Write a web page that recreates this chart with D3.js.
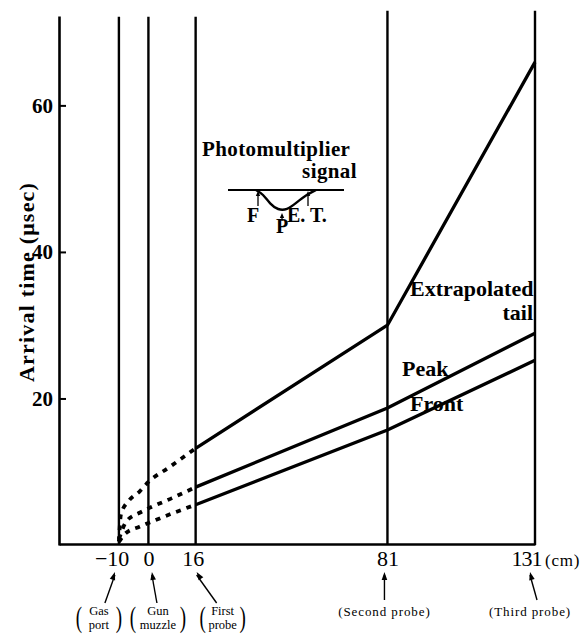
<!DOCTYPE html>
<html>
<head>
<meta charset="utf-8">
<script src="https://cdn.jsdelivr.net/npm/d3@7"></script>
<style>
  html, body { margin: 0; padding: 0; background: #fff; }
  svg { display: block; }
  text { font-family: "Liberation Serif", "DejaVu Serif", serif; fill: #000; }
</style>
</head>
<body>
<svg id="chart" width="582" height="637"></svg>
<script>
// Positions along the gun (cm) and what sits there
const probePos = [-10, 0, 16, 81, 131];
const tickLabels = ["\u221210", "0", "16", "81", "131"];
const probeNames = [["Gas", "port"], ["Gun", "muzzle"], ["First", "probe"], ["Second probe"], ["Third probe"]];

// Arrival-time axis ticks (µsec)
const yTicks = [20, 40, 60];

// Measured arrival times at the three probes (µsec)
const measuredX = [16, 81, 131];
const tailValues = [13.2, 30.0, 65.9];
const peakValues = [7.9, 18.7, 28.9];
const frontValues = [5.5, 15.7, 25.2];

// Extrapolation back toward the gas port (dashed)
const tailExtrapX = [-10, -9.3, -6.5, -3, 0, 7, 16];
const tailExtrap = [0.5, 4.2, 6.1, 7.3, 8.6, 10.6, 13.2];
const peakExtrapX = [-10, -7.5, -3, 0, 8, 16];
const peakExtrap = [0.8, 3.2, 4.4, 5.0, 6.4, 7.9];
const frontExtrapX = [-10, -8, -3, 0, 8, 16];
const frontExtrap = [0.4, 1.5, 2.5, 3.0, 4.3, 5.5];

const seriesLabels = [["Extrapolated", "tail"], ["Peak"], ["Front"]];

const svg = d3.select("#chart");

const x = d3.scaleLinear().domain([-30.3, 131]).range([59, 535]);
const y = d3.scaleLinear().domain([0, 72.2]).range([545, 16]);

const line = d3.line().x(d => x(d[0])).y(d => y(d[1]));
const curve = d3.line().x(d => x(d[0])).y(d => y(d[1])).curve(d3.curveMonotoneX);

// Left axis with inward ticks
const yAxis = svg.append("g")
  .attr("transform", `translate(${x.range()[0]},0)`)
  .call(d3.axisLeft(y).tickValues(yTicks).tickSize(-7).tickPadding(6).tickSizeOuter(0));
yAxis.select(".domain").attr("stroke", "#000").attr("stroke-width", 2.6);
yAxis.selectAll(".tick line").attr("stroke", "#000").attr("stroke-width", 2);
yAxis.selectAll(".tick text")
  .attr("font-family", "Liberation Serif, DejaVu Serif, serif")
  .attr("font-size", 21).attr("font-weight", "bold").attr("fill", "#000");

// Bottom axis
const xAxis = svg.append("g")
  .attr("transform", `translate(0,${y(0) - 1})`)
  .call(d3.axisBottom(x).tickValues(probePos).tickSize(0).tickSizeOuter(0)
    .tickFormat((d, i) => tickLabels[i]));
xAxis.select(".domain").attr("stroke", "#000").attr("stroke-width", 2.6);
xAxis.selectAll(".tick text")
  .attr("font-family", "Liberation Serif, DejaVu Serif, serif")
  .attr("font-size", 22).attr("fill", "#000")
  .attr("y", 22).attr("dy", 0);
xAxis.selectAll(".tick text").filter((d, i) => i === 0).attr("text-anchor", "end").attr("dx", "0.45em");
xAxis.selectAll(".tick text").filter((d, i) => i === 2).attr("dx", -3);
xAxis.selectAll(".tick text").filter((d, i) => i === 4).attr("dx", -9).attr("letter-spacing", -1);

svg.append("text").attr("x", 545).attr("y", 566)
  .attr("font-size", 17).attr("letter-spacing", 0.8).text("(cm)");

// Axis title
svg.append("text")
  .attr("transform", `translate(34,282) rotate(-90)`)
  .attr("text-anchor", "middle")
  .attr("font-size", 22).attr("font-weight", "bold").attr("letter-spacing", 1.2)
  .text("Arrival time (\u03bcsec)");

// Vertical marker lines at each position
svg.append("g").selectAll("line").data(probePos).join("line")
  .attr("x1", d => x(d)).attr("x2", d => x(d))
  .attr("y1", y(0)).attr("y2", (d, i) => i < 3 ? y(72.1) : y(72.9))
  .attr("stroke", "#000").attr("stroke-width", 2.4);

// Measured arrival-time lines
const solid = [tailValues, peakValues, frontValues];
svg.append("g").selectAll("path").data(solid).join("path")
  .attr("d", v => line(measuredX.map((m, i) => [m, v[i]])))
  .attr("fill", "none").attr("stroke", "#000").attr("stroke-width", 3.3)
  .attr("stroke-linejoin", "miter");

// Extrapolated segments
const dashed = [
  tailExtrapX.map((m, i) => [m, tailExtrap[i]]),
  peakExtrapX.map((m, i) => [m, peakExtrap[i]]),
  frontExtrapX.map((m, i) => [m, frontExtrap[i]])
];
svg.append("g").selectAll("path").data(dashed).join("path")
  .attr("d", curve)
  .attr("fill", "none").attr("stroke", "#000").attr("stroke-width", 3.8)
  .attr("stroke-dasharray", "5,6");

// Series labels
const labelFont = { size: 22, weight: "bold" };
svg.append("text").attr("x", 410).attr("y", 296)
  .attr("font-size", labelFont.size).attr("font-weight", labelFont.weight).text(seriesLabels[0][0]);
svg.append("text").attr("x", 533).attr("y", 320).attr("text-anchor", "end")
  .attr("font-size", labelFont.size).attr("font-weight", labelFont.weight).text(seriesLabels[0][1]);
svg.append("text").attr("x", 402).attr("y", 376)
  .attr("font-size", labelFont.size).attr("font-weight", labelFont.weight).text(seriesLabels[1][0]);
svg.append("text").attr("x", 410).attr("y", 411)
  .attr("font-size", labelFont.size).attr("font-weight", labelFont.weight).text(seriesLabels[2][0]);

// Photomultiplier signal sketch
const sig = svg.append("g");
sig.append("text").attr("x", 202).attr("y", 156).attr("font-size", 21).attr("font-weight", "bold")
  .attr("letter-spacing", 0.4).text("Photomultiplier");
sig.append("text").attr("x", 357).attr("y", 178).attr("font-size", 21).attr("font-weight", "bold")
  .attr("letter-spacing", 0.4).attr("text-anchor", "end").text("signal");
sig.append("line").attr("x1", 228).attr("x2", 344).attr("y1", 190).attr("y2", 190)
  .attr("stroke", "#000").attr("stroke-width", 2.2);
const pulse = [[256, 190], [263, 194], [270, 204], [278, 210], [287, 210], [296, 203], [306, 195], [316, 190]];
sig.append("path").attr("d", d3.line().curve(d3.curveBasis)(pulse))
  .attr("fill", "none").attr("stroke", "#000").attr("stroke-width", 2.4);
// arrows to F, P, E.T.
const arrow = (x0, y0, y1) => {
  sig.append("line").attr("x1", x0).attr("x2", x0).attr("y1", y0).attr("y2", y1 + 3)
    .attr("stroke", "#000").attr("stroke-width", 1.3);
  sig.append("path").attr("d", `M${x0 - 2.2},${y1 + 5}L${x0},${y1}L${x0 + 2.2},${y1 + 5}Z`).attr("fill", "#000");
};
arrow(258, 206, 191);
arrow(282, 221, 213);
arrow(308, 206, 191);
sig.append("text").attr("x", 247).attr("y", 222).attr("font-size", 20).attr("font-weight", "bold").text("F");
sig.append("text").attr("x", 276).attr("y", 233).attr("font-size", 20).attr("font-weight", "bold").text("P");
sig.append("text").attr("x", 287).attr("y", 222).attr("font-size", 20).attr("font-weight", "bold").text("E. T.");

// Position callouts under the axis
const calloutDx = [-20, 9.5, 27, -3, -5];
const arrowBaseDx = [-14, 8.5, 21, -3, 2];
const arrowTopDx = [-4, 3.5, 1, -3, -5];
const callouts = svg.append("g");
probePos.forEach((p, i) => {
  const cx = x(p) + calloutDx[i];
  const bx0 = x(p) + arrowBaseDx[i];
  const tx = x(p) + arrowTopDx[i];
  const two = probeNames[i].length === 2;
  const y0 = two ? 603 : 600, y1 = 572;
  callouts.append("line").attr("x1", bx0).attr("y1", y0).attr("x2", tx).attr("y2", y1 + 3)
    .attr("stroke", "#000").attr("stroke-width", 1.4);
  const ang = Math.atan2(y1 - y0, tx - bx0);
  const hx = tx, hy = y1, L = 8, W = 2.8;
  const bx = hx - L * Math.cos(ang), by = hy - L * Math.sin(ang);
  const px = -Math.sin(ang) * W, py = Math.cos(ang) * W;
  callouts.append("path")
    .attr("d", `M${hx},${hy}L${bx + px},${by + py}L${bx - px},${by - py}Z`).attr("fill", "#000");
  if (two) {
    const g = callouts.append("g").attr("transform", `translate(${cx},0)`);
    g.append("text").attr("x", 0).attr("y", 615).attr("text-anchor", "middle").attr("font-size", 12.5).text(probeNames[i][0]);
    g.append("text").attr("x", 0).attr("y", 629).attr("text-anchor", "middle").attr("font-size", 12.5).text(probeNames[i][1]);
    const half = i === 1 ? 25 : 20;
    g.append("text").attr("transform", `translate(${-half},627) scale(1,1.55)`).attr("text-anchor", "middle").attr("font-size", 19).text("(");
    g.append("text").attr("transform", `translate(${half},627) scale(1,1.55)`).attr("text-anchor", "middle").attr("font-size", 19).text(")");
  } else {
    callouts.append("text").attr("x", cx).attr("y", 616).attr("text-anchor", "middle")
      .attr("font-size", 13).attr("letter-spacing", 0.9).text("(" + probeNames[i][0] + ")");
  }
});
</script>
</body>
</html>
